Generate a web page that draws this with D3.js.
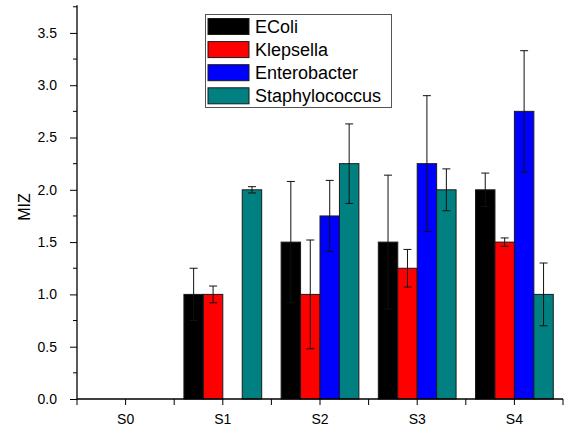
<!DOCTYPE html>
<html>
<head>
<meta charset="utf-8">
<script src="https://cdn.jsdelivr.net/npm/d3@7"></script>
<style>
  body { margin: 0; background: #fff; }
  svg { display: block; font-family: "Liberation Sans", Arial, sans-serif; }
</style>
</head>
<body>
<svg id="chart" width="568" height="430"></svg>
<script>
// samples on the x axis
const categories = ['S0', 'S1', 'S2', 'S3', 'S4'];
const seriesNames = ['EColi', 'Klepsella', 'Enterobacter', 'Staphylococcus'];
const seriesColors = ['#000000', '#ff0000', '#0000ff', '#008080'];

// MIZ values and error (+/-) per sample
const ecoli = [0, 1.0, 1.5, 1.5, 2.0];
const ecoliErr = [0, 0.25, 0.58, 0.64, 0.16];
const klepsella = [0, 1.0, 1.0, 1.25, 1.5];
const klepsellaErr = [0, 0.08, 0.52, 0.18, 0.04];
const enterobacter = [0, 0, 1.75, 2.25, 2.75];
const enterobacterErr = [0, 0, 0.34, 0.65, 0.58];
const staph = [0, 2.0, 2.25, 2.0, 1.0];
const staphErr = [0, 0.03, 0.38, 0.2, 0.3];

const yTicks = [0, 0.5, 1.0, 1.5, 2.0, 2.5, 3.0, 3.5];
const yMinorTicks = [0.25, 0.75, 1.25, 1.75, 2.25, 2.75, 3.25, 3.75];

const values = [ecoli, klepsella, enterobacter, staph];
const errors = [ecoliErr, klepsellaErr, enterobacterErr, staphErr];

const rows = [];
categories.forEach((c, i) => {
  seriesNames.forEach((s, j) => {
    rows.push({ cat: c, series: s, color: seriesColors[j], v: values[j][i], e: errors[j][i] });
  });
});

const svg = d3.select('#chart');
const plotLeft = 77, plotRight = 563, plotBottom = 399, plotTop = 5.3;

const x = d3.scaleBand().domain(categories).range([plotLeft, plotRight]).padding(0);
const x1 = d3.scaleBand().domain(seriesNames).range([0, x.bandwidth()])
  .paddingInner(0).paddingOuter(0.5);
const y = d3.scaleLinear().domain([0, 3.764]).range([plotBottom, plotTop]);

// bars
const bars = rows.filter(d => d.v > 0);
svg.append('g')
  .selectAll('rect')
  .data(bars)
  .enter()
  .append('rect')
  .attr('x', d => x(d.cat) + x1(d.series))
  .attr('y', d => y(d.v))
  .attr('width', x1.bandwidth())
  .attr('height', d => y(0) - y(d.v))
  .attr('fill', d => d.color)
  .attr('stroke', '#1a1a1a')
  .attr('stroke-width', 1);

// error bars
const errG = svg.append('g').attr('stroke', '#111').attr('stroke-width', 1);
const eb = errG.selectAll('g')
  .data(bars.filter(d => d.e > 0))
  .enter()
  .append('g')
  .attr('transform', d => `translate(${x(d.cat) + x1(d.series) + x1.bandwidth() / 2},0)`);
eb.append('line')
  .attr('y1', d => y(d.v - d.e))
  .attr('y2', d => y(d.v + d.e));
eb.append('line')
  .attr('x1', -4).attr('x2', 4)
  .attr('y1', d => y(d.v + d.e)).attr('y2', d => y(d.v + d.e));
eb.append('line')
  .attr('x1', -4).attr('x2', 4)
  .attr('y1', d => y(d.v - d.e)).attr('y2', d => y(d.v - d.e));

// y axis
const yAxis = svg.append('g')
  .attr('transform', `translate(${plotLeft},0)`)
  .call(d3.axisLeft(y).tickValues(yTicks).tickFormat(d3.format('.1f'))
    .tickSize(7).tickPadding(13).tickSizeOuter(0));
yAxis.select('.domain').remove();
yAxis.selectAll('text').attr('font-size', 14).attr('fill', '#000')
  .style('font-family', '"Liberation Sans", Arial, sans-serif');
yAxis.selectAll('line').attr('stroke', '#000');
svg.append('g')
  .selectAll('line')
  .data(yMinorTicks)
  .enter()
  .append('line')
  .attr('x1', plotLeft - 4).attr('x2', plotLeft)
  .attr('y1', d => y(d)).attr('y2', d => y(d))
  .attr('stroke', '#000');
svg.append('line')
  .attr('x1', plotLeft).attr('x2', plotLeft)
  .attr('y1', y(0)).attr('y2', plotTop)
  .attr('stroke', '#000').attr('stroke-width', 1.3);

// x axis
const xAxis = svg.append('g')
  .attr('transform', `translate(0,${plotBottom})`)
  .call(d3.axisBottom(x).tickSize(6).tickPadding(9).tickSizeOuter(0));
xAxis.select('.domain').remove();
xAxis.selectAll('text').attr('font-size', 14).attr('fill', '#000')
  .style('font-family', '"Liberation Sans", Arial, sans-serif');
xAxis.selectAll('line').attr('stroke', '#000');
const bounds = categories.map(c => x(c)).concat([plotRight]);
svg.append('g')
  .selectAll('line')
  .data(bounds)
  .enter()
  .append('line')
  .attr('x1', d => d).attr('x2', d => d)
  .attr('y1', plotBottom).attr('y2', plotBottom + 6)
  .attr('stroke', '#000');
svg.append('line')
  .attr('x1', plotLeft).attr('x2', plotRight)
  .attr('y1', plotBottom).attr('y2', plotBottom)
  .attr('stroke', '#000').attr('stroke-width', 1.3);

// y label
svg.append('text')
  .attr('transform', 'translate(30,207) rotate(-90)')
  .attr('text-anchor', 'middle')
  .attr('font-size', 16)
  .text('MIZ');

// legend
const legend = svg.append('g').attr('transform', 'translate(205,14)');
legend.append('rect')
  .attr('x', 0.5).attr('y', 0.5)
  .attr('width', 186).attr('height', 93)
  .attr('fill', '#fff')
  .attr('stroke', '#555');
const item = legend.selectAll('.item')
  .data(seriesNames)
  .enter()
  .append('g')
  .attr('class', 'item')
  .attr('transform', (d, i) => `translate(3,${4.5 + i * 23.1})`);
item.append('rect')
  .attr('width', 41).attr('height', 16)
  .attr('fill', (d, i) => seriesColors[i])
  .attr('stroke', '#1a1a1a');
item.append('text')
  .attr('x', 47).attr('y', 14.5)
  .attr('font-size', 18)
  .text(d => d);
</script>
</body>
</html>
